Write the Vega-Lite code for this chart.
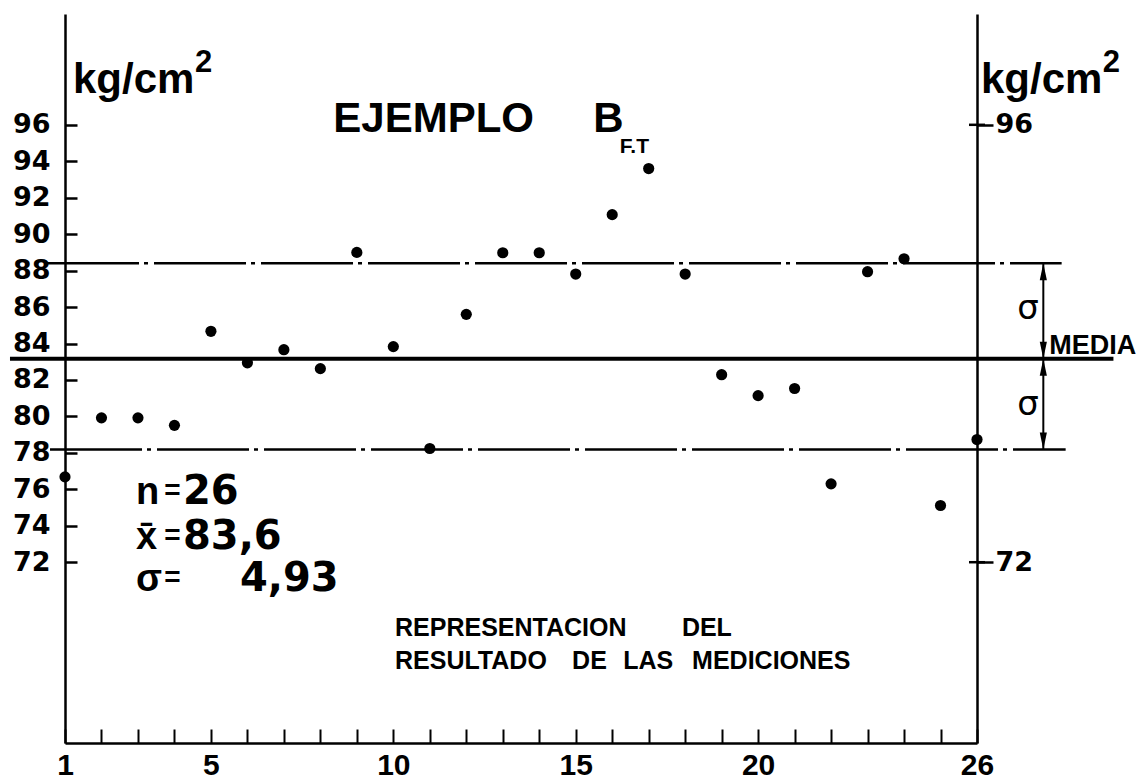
{
  "$schema": "https://vega.github.io/schema/vega-lite/v6.json",
  "width": 912,
  "height": 729,
  "autosize": "none",
  "padding": {"left": 65, "top": 14, "right": 161, "bottom": 40},
  "background": "white",
  "config": {
    "view": {"stroke": null},
    "axis": {"grid": false, "title": null, "domainColor": "black", "tickColor": "black", "labelColor": "black", "labelFontWeight": "bold"}
  },
  "resolve": {"axis": {"x": "independent", "y": "independent"}},
  "datasets": {
    "pts": [
      {"i": 1, "v": 76.68}, {"i": 2, "v": 79.92}, {"i": 3, "v": 79.92}, {"i": 4, "v": 79.51},
      {"i": 5, "v": 84.67}, {"i": 6, "v": 82.94}, {"i": 7, "v": 83.66}, {"i": 8, "v": 82.62},
      {"i": 9, "v": 89.0}, {"i": 10, "v": 83.83}, {"i": 11, "v": 78.24}, {"i": 12, "v": 85.6},
      {"i": 13, "v": 88.98}, {"i": 14, "v": 88.98}, {"i": 15, "v": 87.81}, {"i": 16, "v": 91.07},
      {"i": 17, "v": 93.6}, {"i": 18, "v": 87.81}, {"i": 19, "v": 82.29}, {"i": 20, "v": 81.14},
      {"i": 21, "v": 81.53}, {"i": 22, "v": 76.3}, {"i": 23, "v": 87.94}, {"i": 24, "v": 88.65},
      {"i": 25, "v": 75.11}, {"i": 26, "v": 78.73}
    ],
    "rtick": [{"v": 96}, {"v": 72}],
    "lines": [
      {"kind": "sigma", "y": 88.4, "x1": 0.507, "x2": 28.32},
      {"kind": "mean", "y": 83.17, "x1": -0.508, "x2": 29.74},
      {"kind": "sigma", "y": 78.18, "x1": 0.589, "x2": 28.43}
    ],
    "arrows": [
      {"ax": 27.818, "y1": 88.4, "y2": 83.17},
      {"ax": 27.818, "y1": 83.17, "y2": 78.18}
    ],
    "heads": [
      {"ax": 27.818, "y": 88.4, "dir": "up"},
      {"ax": 27.818, "y": 83.17, "dir": "down"},
      {"ax": 27.818, "y": 83.17, "dir": "up"},
      {"ax": 27.818, "y": 78.18, "dir": "down"}
    ],
    "sig": [
      {"x": 27.40, "y": 85.91, "t": "σ"},
      {"x": 27.40, "y": 80.62, "t": "σ"}
    ],
    "big": [
      {"x": 8.355, "y": 95.63, "t": "EJEMPLO"},
      {"x": 15.48, "y": 95.63, "t": "B"},
      {"x": 1.219, "y": 97.75, "t": "kg/cm"},
      {"x": 26.11, "y": 97.75, "t": "kg/cm"}
    ],
    "sup": [
      {"x": 4.564, "y": 98.92, "t": "2"},
      {"x": 29.45, "y": 98.92, "t": "2"}
    ],
    "sub": [{"x": 16.21, "y": 94.48, "t": "F.T"}],
    "media": [{"x": 27.98, "y": 83.41, "t": "MEDIA"}],
    "rep": [
      {"x": 10.046, "y": 67.95, "t": "REPRESENTACION"},
      {"x": 17.91, "y": 67.95, "t": "DEL"},
      {"x": 10.046, "y": 66.12, "t": "RESULTADO"},
      {"x": 14.90, "y": 66.12, "t": "DE"},
      {"x": 16.30, "y": 66.12, "t": "LAS"},
      {"x": 18.19, "y": 66.12, "t": "MEDICIONES"}
    ],
    "stats": [
      {"sym": "n", "val": "26", "vx": 4.235, "y": 75.17},
      {"sym": "x\u0304", "val": "83,6", "vx": 4.235, "y": 72.70},
      {"sym": "σ", "val": "4,93", "vx": 5.797, "y": 70.41}
    ]
  },
  "layer": [
    {
      "data": {"name": "pts"},
      "mark": {"type": "circle", "size": 125, "color": "black", "opacity": 1},
      "encoding": {
        "x": {
          "field": "i", "type": "quantitative",
          "scale": {"domain": [1, 26], "nice": false, "zero": false},
          "axis": {
            "orient": "bottom", "title": null,
            "values": [1,2,3,4,5,6,7,8,9,10,11,12,13,14,15,16,17,18,19,20,21,22,23,24,25,26],
            "labelExpr": "indexof([1,5,10,15,20,26], datum.value) >= 0 ? datum.label : ''",
            "tickSize": -14, "tickWidth": 2, "domainWidth": 2.5,
            "labelPadding": 21, "labelFontSize": 30, "labelFont": "Liberation Sans", "labelBaseline": "top",
            "labelFlush": false, "labelOverlap": false, "labelBound": false
          }
        },
        "y": {
          "field": "v", "type": "quantitative",
          "scale": {"domain": [62.08, 102.08], "nice": false, "zero": false},
          "axis": {
            "orient": "left", "title": null,
            "values": [72,74,76,78,80,82,84,86,88,90,92,94,96],
            "tickSize": -12, "tickWidth": 2.5, "domainWidth": 2.5,
            "labelPadding": 27, "labelFontSize": 27, "labelFont": "DejaVu Sans",
            "labelOverlap": false, "labelBound": false, "labelFlush": false
          }
        }
      }
    },
    {
      "data": {"name": "lines"},
      "transform": [{"filter": "datum.kind === 'sigma'"}],
      "mark": {"type": "rule", "strokeDash": [92, 5, 4, 6], "strokeWidth": 2.5, "color": "black"},
      "encoding": {
        "x": {"field": "x1", "type": "quantitative", "axis": null},
        "x2": {"field": "x2"},
        "y": {"field": "y", "type": "quantitative", "axis": null}
      }
    },
    {
      "data": {"name": "lines"},
      "transform": [{"filter": "datum.kind === 'mean'"}],
      "mark": {"type": "rule", "strokeWidth": 4, "color": "black"},
      "encoding": {
        "x": {"field": "x1", "type": "quantitative", "axis": null},
        "x2": {"field": "x2"},
        "y": {"field": "y", "type": "quantitative", "axis": null}
      }
    },
    {
      "data": {"name": "rtick"},
      "mark": {"type": "point", "shape": "stroke", "size": 256, "strokeWidth": 2.5, "color": "black", "opacity": 1},
      "encoding": {
        "x": {"datum": 26, "type": "quantitative", "axis": null},
        "y": {
          "field": "v", "type": "quantitative",
          "axis": {
            "orient": "right", "title": null, "values": [72, 96],
            "tickSize": 16, "tickWidth": 2.5, "domainWidth": 2.5,
            "labelPadding": 2, "labelFontSize": 27, "labelFont": "DejaVu Sans", "labelAlign": "left",
            "labelOverlap": false, "labelBound": false, "labelFlush": false
          }
        }
      }
    },
    {
      "data": {"name": "arrows"},
      "mark": {"type": "rule", "strokeWidth": 2, "color": "black"},
      "encoding": {
        "x": {"field": "ax", "type": "quantitative", "axis": null},
        "y": {"field": "y1", "type": "quantitative", "axis": null},
        "y2": {"field": "y2"}
      }
    },
    {
      "data": {"name": "heads"},
      "mark": {"type": "point", "filled": true, "size": 289, "color": "black", "opacity": 1},
      "encoding": {
        "x": {"field": "ax", "type": "quantitative", "axis": null},
        "y": {"field": "y", "type": "quantitative", "axis": null},
        "shape": {
          "field": "dir", "type": "nominal", "legend": null,
          "scale": {"domain": ["up", "down"], "range": ["M0,0L0.42,2L-0.42,2Z", "M0,0L0.42,-2L-0.42,-2Z"]}
        }
      }
    },
    {
      "data": {"name": "sig"},
      "mark": {"type": "text", "font": "DejaVu Sans", "fontSize": 34, "align": "center", "baseline": "middle", "color": "black"},
      "encoding": {
        "x": {"field": "x", "type": "quantitative", "axis": null},
        "y": {"field": "y", "type": "quantitative", "axis": null},
        "text": {"field": "t"}
      }
    },
    {
      "data": {"name": "big"},
      "mark": {"type": "text", "font": "Liberation Sans", "fontWeight": "bold", "fontSize": 42, "align": "left", "baseline": "alphabetic", "color": "black"},
      "encoding": {
        "x": {"field": "x", "type": "quantitative", "axis": null},
        "y": {"field": "y", "type": "quantitative", "axis": null},
        "text": {"field": "t"}
      }
    },
    {
      "data": {"name": "sup"},
      "mark": {"type": "text", "font": "Liberation Sans", "fontWeight": "bold", "fontSize": 31, "align": "left", "baseline": "alphabetic", "color": "black"},
      "encoding": {
        "x": {"field": "x", "type": "quantitative", "axis": null},
        "y": {"field": "y", "type": "quantitative", "axis": null},
        "text": {"field": "t"}
      }
    },
    {
      "data": {"name": "sub"},
      "mark": {"type": "text", "font": "Liberation Sans", "fontWeight": "bold", "fontSize": 21, "align": "left", "baseline": "alphabetic", "color": "black"},
      "encoding": {
        "x": {"field": "x", "type": "quantitative", "axis": null},
        "y": {"field": "y", "type": "quantitative", "axis": null},
        "text": {"field": "t"}
      }
    },
    {
      "data": {"name": "media"},
      "mark": {"type": "text", "font": "Liberation Sans", "fontWeight": "bold", "fontSize": 27, "align": "left", "baseline": "alphabetic", "color": "black"},
      "encoding": {
        "x": {"field": "x", "type": "quantitative", "axis": null},
        "y": {"field": "y", "type": "quantitative", "axis": null},
        "text": {"field": "t"}
      }
    },
    {
      "data": {"name": "rep"},
      "mark": {"type": "text", "font": "Liberation Sans", "fontWeight": "bold", "fontSize": 25, "align": "left", "baseline": "alphabetic", "color": "black"},
      "encoding": {
        "x": {"field": "x", "type": "quantitative", "axis": null},
        "y": {"field": "y", "type": "quantitative", "axis": null},
        "text": {"field": "t"}
      }
    },
    {
      "data": {"name": "stats"},
      "mark": {"type": "text", "font": "Liberation Sans", "fontWeight": "bold", "fontSize": 38, "align": "left", "baseline": "alphabetic", "color": "black"},
      "encoding": {
        "x": {"datum": 2.946, "type": "quantitative", "axis": null},
        "y": {"field": "y", "type": "quantitative", "axis": null},
        "text": {"field": "sym"}
      }
    },
    {
      "data": {"name": "stats"},
      "mark": {"type": "text", "font": "Liberation Sans", "fontWeight": "bold", "fontSize": 28, "align": "left", "baseline": "alphabetic", "color": "black", "text": "=", "dy": -5},
      "encoding": {
        "x": {"datum": 3.72, "type": "quantitative", "axis": null},
        "y": {"field": "y", "type": "quantitative", "axis": null}
      }
    },
    {
      "data": {"name": "stats"},
      "mark": {"type": "text", "font": "DejaVu Sans", "fontWeight": "bold", "fontSize": 40, "align": "left", "baseline": "alphabetic", "color": "black"},
      "encoding": {
        "x": {"field": "vx", "type": "quantitative", "axis": null},
        "y": {"field": "y", "type": "quantitative", "axis": null},
        "text": {"field": "val"}
      }
    }
  ]
}
